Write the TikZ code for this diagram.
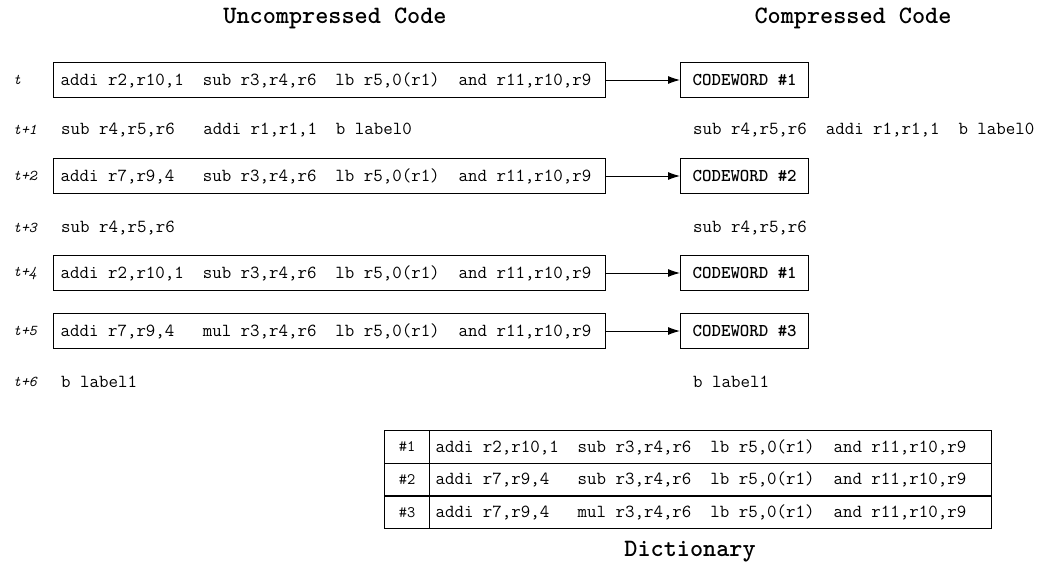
\documentclass[tikz,border=0pt]{standalone}
\usetikzlibrary{arrows.meta}
\newcommand{\codeline}[2]{\makebox[#1][l]{#2}}

\begin{document}
\begin{tikzpicture}[x=1pt, y=-1pt,
  instr/.style={draw, line width=1.4pt, anchor=west, minimum height=35pt, minimum width=552pt,
    inner xsep=7pt, font=\ttfamily\fontsize{18.4}{20}\selectfont},
  cword/.style={draw, line width=1.4pt, anchor=west, minimum width=128pt, minimum height=35pt,
    inner sep=0pt, font=\ttfamily\bfseries\fontsize{18}{20}\selectfont},
  loose/.style={anchor=west, inner sep=0pt, font=\ttfamily\fontsize{18.4}{20}\selectfont},
  tlab/.style={anchor=west, inner sep=0pt, font=\ttfamily\itshape\fontsize{15}{17}\selectfont},
  head/.style={inner sep=0pt, font=\ttfamily\bfseries\fontsize{25}{28}\selectfont},
  dictkey/.style={draw, line width=1.2pt, anchor=north west, minimum width=45pt, minimum height=32.7pt,
    inner sep=0pt, font=\ttfamily\fontsize{16}{18}\selectfont},
  dictentry/.style={draw, line width=1.2pt, anchor=north west, minimum height=32.7pt, minimum width=562pt,
    inner xsep=6pt, font=\ttfamily\fontsize{18.4}{20}\selectfont},
  feed/.style={-{Latex[length=12pt,width=8pt]}, line width=1pt}]
  \useasboundingbox (0,0) rectangle (1040,562);

  % headings
  \node[head] (hu) at (335,18) {Uncompressed Code};
  \node[head] (hc) at (853,18) {Compressed Code};

  % t: codeword #1
  \node[tlab] (l0) at (13,80) {t};
  \node[instr] (u0) at (53,80) {\codeline{538pt}{addi r2,r10,1~~sub r3,r4,r6~~lb r5,0(r1)~~and r11,r10,r9}};
  \node[cword] (c0) at (680,80) {CODEWORD \#1};
  \draw[feed] (u0) -- (c0);

  % t+1: left as is
  \node[tlab] (l1) at (13,130) {t+1};
  \node[loose] (u1) at (61,130) {sub r4,r5,r6~~~addi r1,r1,1~~b label0};
  \node[loose] (c1) at (693,130) {sub r4,r5,r6~~addi r1,r1,1~~b label0};

  % t+2: codeword #2
  \node[tlab] (l2) at (13,176) {t+2};
  \node[instr] (u2) at (53,176) {\codeline{538pt}{addi r7,r9,4~~~sub r3,r4,r6~~lb r5,0(r1)~~and r11,r10,r9}};
  \node[cword] (c2) at (680,176) {CODEWORD \#2};
  \draw[feed] (u2) -- (c2);

  % t+3: left as is
  \node[tlab] (l3) at (13,228) {t+3};
  \node[loose] (u3) at (61,228) {sub r4,r5,r6};
  \node[loose] (c3) at (693,228) {sub r4,r5,r6};

  % t+4: codeword #1 again
  \node[tlab] (l4) at (13,273) {t+4};
  \node[instr] (u4) at (53,273) {\codeline{538pt}{addi r2,r10,1~~sub r3,r4,r6~~lb r5,0(r1)~~and r11,r10,r9}};
  \node[cword] (c4) at (680,273) {CODEWORD \#1};
  \draw[feed] (u4) -- (c4);

  % t+5: codeword #3
  \node[tlab] (l5) at (13,331) {t+5};
  \node[instr] (u5) at (53,331) {\codeline{538pt}{addi r7,r9,4~~~mul r3,r4,r6~~lb r5,0(r1)~~and r11,r10,r9}};
  \node[cword] (c5) at (680,331) {CODEWORD \#3};
  \draw[feed] (u5) -- (c5);

  % t+6: left as is
  \node[tlab] (l6) at (13,382) {t+6};
  \node[loose] (u6) at (61,382) {b label1};
  \node[loose] (c6) at (693,382) {b label1};

  % dictionary
  \node[dictkey]   (k1) at (384,430)   {\#1};
  \node[dictentry] (d1) at (429,430)   {\codeline{550pt}{addi r2,r10,1~~sub r3,r4,r6~~lb r5,0(r1)~~and r11,r10,r9}};
  \node[dictkey]   (k2) at (384,462.7) {\#2};
  \node[dictentry] (d2) at (429,462.7) {\codeline{550pt}{addi r7,r9,4~~~sub r3,r4,r6~~lb r5,0(r1)~~and r11,r10,r9}};
  \node[dictkey]   (k3) at (384,495.4) {\#3};
  \node[dictentry] (d3) at (429,495.4) {\codeline{550pt}{addi r7,r9,4~~~mul r3,r4,r6~~lb r5,0(r1)~~and r11,r10,r9}};
  \node[head] (hd) at (690,552) {Dictionary};
\end{tikzpicture}
\end{document}
